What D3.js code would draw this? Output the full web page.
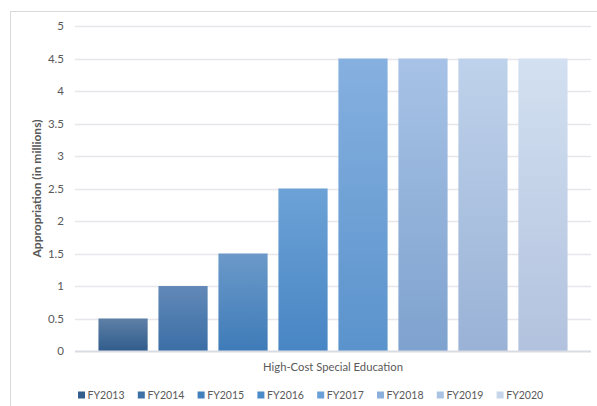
<!DOCTYPE html>
<html>
<head>
<meta charset="utf-8">
<script src="https://cdn.jsdelivr.net/npm/d3@7"></script>
<style>
  html, body { margin: 0; padding: 0; background: #fff; }
  svg { display: block; font-family: Lato, "Open Sans", sans-serif; }
</style>
</head>
<body>
<svg id="chart" width="597" height="406"></svg>
<script>
// High-Cost Special Education appropriation by fiscal year (in millions)
const years = ["FY2013", "FY2014", "FY2015", "FY2016", "FY2017", "FY2018", "FY2019", "FY2020"];
const appropriations = [0.5, 1, 1.5, 2.5, 4.5, 4.5, 4.5, 4.5];
const yTicks = [0, 0.5, 1, 1.5, 2, 2.5, 3, 3.5, 4, 4.5, 5];
const categoryLabel = "High-Cost Special Education";
const yTitle = "Appropriation (in millions)";
// light (top) and dark (bottom) gradient colour per year
const topColors = ["#5e80a7", "#6289b8", "#6b99c9", "#6ca2d6", "#86b0e0", "#a7c2e6", "#bfd2eb", "#d3e0f1"];
const bottomColors = ["#305c8c", "#3b6ea6", "#3e7bb8", "#4885c4", "#5a93cc", "#7ea2ce", "#99b2d6", "#b2c2de"];
const legendColors = ["#335f8f", "#3d70a7", "#4080bd", "#4a8ac9", "#6aa0d8", "#8cafdb", "#aac3e2", "#c7d5ea"];

const svg = d3.select("#chart");
const margin = { left: 75, right: 6, top: 26, bottom: 55 };
const W = 597, H = 406;

// shrink a text node's font until it fits the given width
function fitWidth(sel, maxWidth) {
  sel.each(function () {
    const node = this;
    const fs = parseFloat(node.getAttribute("font-size"));
    const w = node.getComputedTextLength();
    if (w > maxWidth) node.setAttribute("font-size", (fs * maxWidth / w).toFixed(2));
  });
}

// chart frame
svg.append("rect")
  .attr("x", 10.5).attr("y", 11.5)
  .attr("width", 600).attr("height", 420)
  .attr("fill", "none").attr("stroke", "#d9d9d9").attr("stroke-width", 1);

const x0 = d3.scaleBand().domain([categoryLabel]).range([margin.left, W - margin.right]).paddingInner(0).paddingOuter(0.05);
const x1 = d3.scaleBand().domain(years).range([0, x0.bandwidth()]).paddingInner(0.18).paddingOuter(0);
const y = d3.scaleLinear().domain([0, 5]).range([H - margin.bottom, margin.top]);

// gridlines
svg.append("g").selectAll("line").data(yTicks.filter(t => t > 0)).join("line")
  .attr("x1", margin.left).attr("x2", W - margin.right)
  .attr("y1", d => Math.round(y(d)) + 0.5).attr("y2", d => Math.round(y(d)) + 0.5)
  .attr("stroke", "#e6e6ec").attr("stroke-width", 1.3);

// y axis labels
const yAxis = d3.axisLeft(y).tickValues(yTicks).tickSize(0).tickPadding(0).tickFormat(d3.format("~g"));
const ya = svg.append("g").attr("transform", `translate(${margin.left - 11},0)`).call(yAxis);
ya.select(".domain").remove();
ya.selectAll("text").attr("font-size", 11.5).attr("fill", "#595959").attr("font-family", "Lato, sans-serif");

// gradients
const defs = svg.append("defs");
years.forEach((yr, i) => {
  const g = defs.append("linearGradient").attr("id", "grad" + i)
    .attr("x1", 0).attr("y1", 0).attr("x2", 0).attr("y2", 1);
  g.append("stop").attr("offset", "0%").attr("stop-color", topColors[i]);
  g.append("stop").attr("offset", "100%").attr("stop-color", bottomColors[i]);
});

// bars
const gx = x0(categoryLabel);
svg.append("g").selectAll("rect").data(years).join("rect")
  .attr("x", (d) => gx + x1(d))
  .attr("width", x1.bandwidth())
  .attr("y", (d, i) => y(appropriations[i]))
  .attr("height", (d, i) => y(0) - y(appropriations[i]))
  .attr("fill", (d, i) => `url(#grad${i})`);

// baseline
svg.append("line")
  .attr("x1", margin.left).attr("x2", W - margin.right)
  .attr("y1", y(0) + 0.5).attr("y2", y(0) + 0.5)
  .attr("stroke", "#d9dce3").attr("stroke-width", 2);

// category label
svg.append("text")
  .attr("x", gx + x0.bandwidth() / 2).attr("y", 371)
  .attr("text-anchor", "middle").attr("font-size", 12).attr("fill", "#595959")
  .text(categoryLabel)
  .call(fitWidth, 140);

// y title
svg.append("text")
  .attr("transform", `translate(41,${(y(0) + y(5)) / 2}) rotate(-90)`)
  .attr("text-anchor", "middle").attr("font-size", 12).attr("font-weight", "bold").attr("fill", "#595959")
  .text(yTitle)
  .call(fitWidth, 140);

// legend
const legend = svg.append("g").attr("transform", "translate(78,395)");
const item = legend.selectAll("g").data(years).join("g")
  .attr("transform", (d, i) => `translate(${i * 59.8},0)`);
item.append("rect").attr("x", 0).attr("y", -3.5).attr("width", 7).attr("height", 7)
  .attr("fill", (d, i) => legendColors[i]);
item.append("text").attr("x", 9.6).attr("y", 4)
  .attr("font-size", 12).attr("fill", "#595959").text(d => d)
  .call(fitWidth, 37);
</script>
</body>
</html>
